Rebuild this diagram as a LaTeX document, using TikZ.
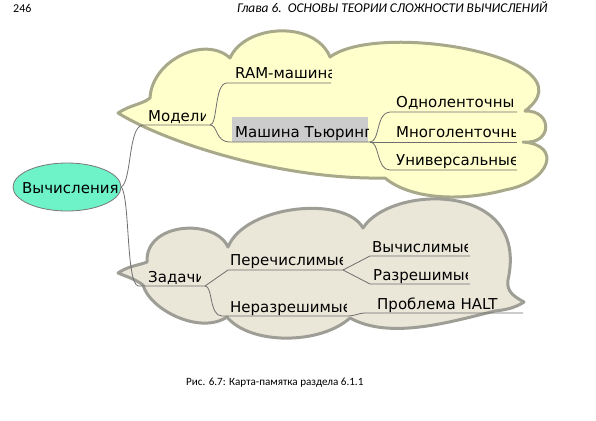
\documentclass[tikz,border=0pt]{standalone}
\usepackage{fontspec}
\setmainfont{DejaVu Sans}
\newfontfamily\carlito{Carlito}
\usetikzlibrary{shapes.geometric}
\definecolor{ellfill}{RGB}{110,242,200}
\definecolor{ellborder}{RGB}{120,120,120}
\definecolor{linkgray}{RGB}{110,110,110}
\definecolor{cloudAfill}{RGB}{255,255,204}
\definecolor{cloudAborder}{RGB}{168,168,138}
\definecolor{cloudBfill}{RGB}{234,230,216}
\definecolor{cloudBborder}{RGB}{158,158,150}
\definecolor{hlgray}{RGB}{204,204,204}
\newcommand{\mmfont}{\fontsize{15}{17}\selectfont}
\tikzset{
  txt/.style={inner sep=0pt, anchor=base west, font=\mmfont},
  pagetxt/.style={inner sep=0pt, anchor=base west},
  conn/.style={draw=linkgray, line width=0.8pt},
  cloudA/.style={fill=cloudAfill, draw=cloudAborder, line width=3pt, line join=round},
  cloudB/.style={fill=cloudBfill, draw=cloudBborder, line width=3pt, line join=round},
}
\begin{document}
\begin{tikzpicture}[x=1pt,y=-1pt]
\useasboundingbox (0,0) rectangle (596,420);

% page header and caption
\node[pagetxt, font=\carlito\fontsize{12}{14}\selectfont] (pnum) at (13,13) {246};
\node[pagetxt, font=\carlito\fontsize{13.4}{15}\selectfont\itshape] (head) at (237,13) {Глава 6.\ \ ОСНОВЫ ТЕОРИИ СЛОЖНОСТИ ВЫЧИСЛЕНИЙ};
\node[pagetxt, font=\carlito\fontsize{11.1}{13}\selectfont] (cap) at (186,385) {Рис. 6.7: Карта-памятка раздела 6.1.1};

% cloud 1 (models)
\path[cloudA] (118,113)
  .. controls (130,105) and (143,104) .. (150,98)
  .. controls (152,60) and (205,35) .. (230,58)
  .. controls (245,24) and (315,20) .. (330,57)
  .. controls (380,20) and (595,58) .. (525,111)
  .. controls (553,110) and (553,145) .. (523,142)
  .. controls (563,145) and (550,182) .. (505,190)
  .. controls (460,202) and (410,199) .. (385,178)
  .. controls (280,180) and (165,142) .. cycle;

% cloud 2 (problems)
\path[cloudB] (118,273)
  .. controls (128,266) and (140,265) .. (147,262)
  .. controls (145,222) and (215,218) .. (228,247)
  .. controls (245,205) and (345,195) .. (363,228)
  .. controls (390,185) and (530,180) .. (508,280)
  .. controls (506,292) and (515,297) .. (524,302)
  .. controls (515,308) and (505,310) .. (495,311)
  .. controls (450,322) and (390,340) .. (350,318)
  .. controls (320,345) and (250,345) .. (227,317)
  .. controls (200,335) and (150,310) .. (143,285)
  .. controls (135,279) and (125,276) .. cycle;

% root
\node[ellipse, draw=ellborder, fill=ellfill, line width=0.8pt, minimum width=108pt,
      minimum height=48pt, inner sep=0pt] (vych) at (67,187) {};
\node[txt] (vychT) at (22,193) {Вычисления};

% highlight behind Turing machine
\fill[hlgray] (232,117) rectangle (368,142);

% underline coordinates
\coordinate (modL) at (143,125);  \coordinate (modR) at (210,125);
\coordinate (ramL) at (227,83);   \coordinate (ramR) at (331,83);
\coordinate (turL) at (230,142);  \coordinate (turR) at (370,142);
\coordinate (oneL) at (390,112);  \coordinate (oneR) at (517,112);
\coordinate (mulR) at (517,142);
\coordinate (uniL) at (390,170);  \coordinate (uniR) at (517,170);
\coordinate (zadL) at (138,286);  \coordinate (zadR) at (205,286);
\coordinate (perL) at (228,270);  \coordinate (perR) at (343,270);
\coordinate (vyL) at (370,256);   \coordinate (vyR) at (470,256);
\coordinate (razL) at (370,284);  \coordinate (razR) at (470,284);
\coordinate (nerL) at (222,316);  \coordinate (nerR) at (348,316);
\coordinate (halL) at (366,313);  \coordinate (halR) at (523,313);

% connectors
\draw[conn] (vych.east) .. controls (132,180) and (128,126) .. (modL) -- (modR);
\draw[conn] (vych.east) .. controls (130,200) and (126,282) .. (zadL) -- (zadR);
\draw[conn] (modR) .. controls (218,125) and (214,83) .. (ramL) -- (ramR);
\draw[conn] (modR) .. controls (218,125) and (215,142) .. (turL) -- (turR);
\draw[conn] (turR) .. controls (380,142) and (376,112) .. (oneL) -- (oneR);
\draw[conn] (turR) -- (mulR);
\draw[conn] (turR) .. controls (380,142) and (376,170) .. (uniL) -- (uniR);
\draw[conn] (zadR) -- (perL) -- (perR);
\draw[conn] (perR) -- (vyL) -- (vyR);
\draw[conn] (perR) -- (razL) -- (razR);
\draw[conn] (zadR) .. controls (213,286) and (209,316) .. (nerL) -- (nerR);
\draw[conn] (nerR) .. controls (355,316) and (358,313) .. (halL) -- (halR);

% texts (clipped as in the map)
\begin{scope}\clip (140,100) rectangle (205,130);
\node[txt] (mod) at (148,121) {Модели};\end{scope}
\begin{scope}\clip (225,60) rectangle (331,88);
\node[txt] (ram) at (235,78) {RAM-машина};\end{scope}
\begin{scope}\clip (225,115) rectangle (368,145);
\node[txt] (tur) at (235,137) {Машина Тьюринга};\end{scope}
\begin{scope}\clip (385,90) rectangle (512.5,115);
\node[txt] (one) at (396,107) {Одноленточные};\end{scope}
\begin{scope}\clip (385,120) rectangle (515,180);
\node[txt] (mul) at (396,137) {Многоленточные};
\node[txt] (uni) at (396,165) {Универсальные};\end{scope}
\begin{scope}\clip (140,260) rectangle (200,292);
\node[txt] (zad) at (148,282) {Задачи};\end{scope}
\begin{scope}\clip (225,245) rectangle (342,275);
\node[txt] (per) at (230,265) {Перечислимые};\end{scope}
\begin{scope}\clip (365,235) rectangle (467,290);
\node[txt] (vy) at (372,252) {Вычислимые};
\node[txt] (raz) at (373,280) {Разрешимые};\end{scope}
\begin{scope}\clip (225,290) rectangle (346,320);
\node[txt] (ner) at (230,312) {Неразрешимые};\end{scope}
\node[txt] (hal) at (377,309) {Проблема HALT};
\end{tikzpicture}
\end{document}
